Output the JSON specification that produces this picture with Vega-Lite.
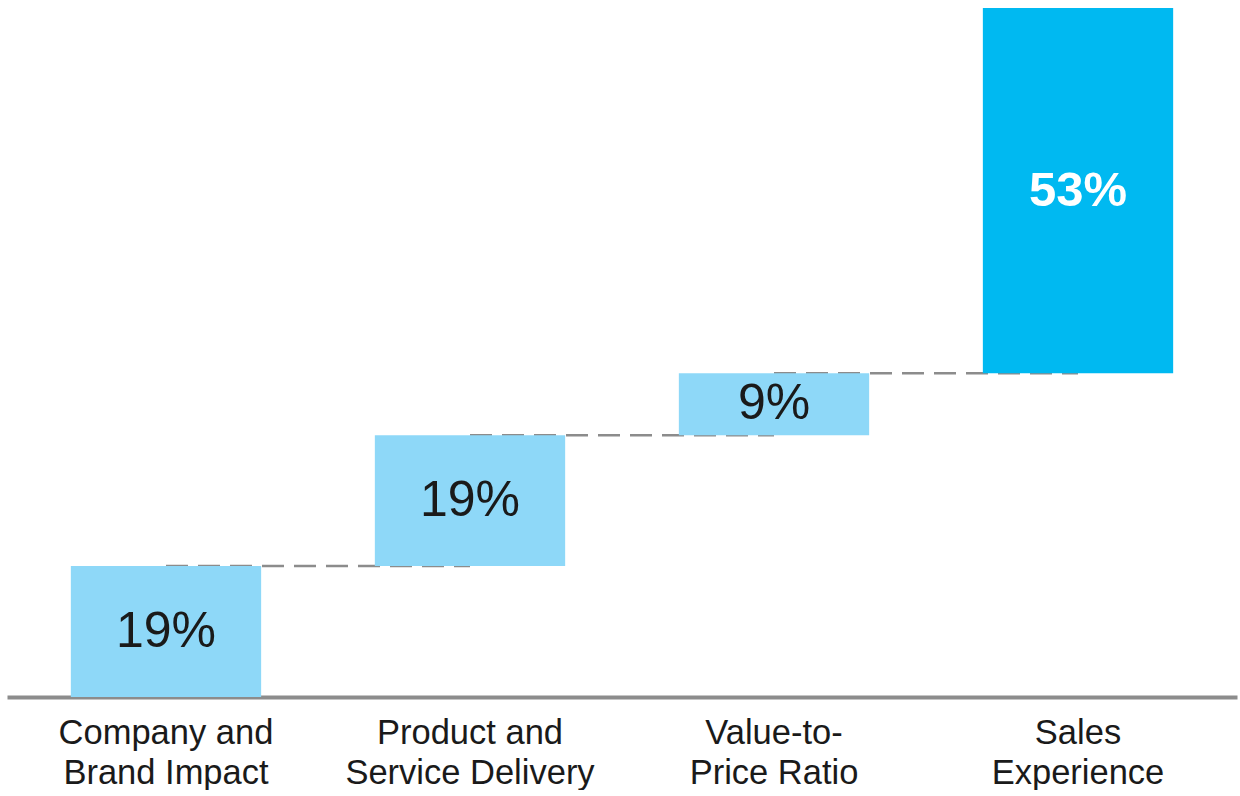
{
  "$schema": "https://vega.github.io/schema/vega-lite/v6.json",
  "width": 1230,
  "height": 689,
  "padding": {"left": 7, "top": 8, "right": 3, "bottom": 0},
  "background": "white",
  "config": {"view": {"stroke": null}, "font": "Liberation Sans"},
  "data": {
    "values": [
      {"cat": "Company and|Brand Impact", "start": 0, "end": 19, "label": "19%", "type": "part", "next": "Product and|Service Delivery"},
      {"cat": "Product and|Service Delivery", "start": 19, "end": 38, "label": "19%", "type": "part", "next": "Value-to-|Price Ratio"},
      {"cat": "Value-to-|Price Ratio", "start": 38, "end": 47, "label": "9%", "type": "part", "next": "Sales|Experience"},
      {"cat": "Sales|Experience", "start": 47, "end": 100, "label": "53%", "type": "main", "next": null}
    ]
  },
  "transform": [{"calculate": "(datum.start + datum.end) / 2", "as": "mid"}],
  "encoding": {
    "x": {
      "field": "cat",
      "type": "nominal",
      "sort": null,
      "scale": {"paddingInner": 0.374, "paddingOuter": 0.21},
      "axis": {
        "title": null,
        "labelAngle": 0,
        "labelExpr": "split(datum.value, '|')",
        "labelFontSize": 34.5,
        "labelLineHeight": 40,
        "labelLimit": 0,
        "labelColor": "#1a1a1a",
        "labelFont": "Liberation Sans",
        "labelPadding": 19,
        "ticks": false,
        "domainColor": "#8c8c8c",
        "domainWidth": 4
      }
    }
  },
  "layer": [
    {
      "transform": [{"filter": "datum.next != null"}],
      "mark": {"type": "rule", "color": "#8c8c8c", "strokeWidth": 2.5, "strokeDash": [22, 10]},
      "encoding": {
        "x2": {"field": "next"},
        "y": {"field": "end", "type": "quantitative", "scale": {"domain": [0, 100], "nice": false}, "axis": null}
      }
    },
    {
      "mark": {"type": "bar"},
      "encoding": {
        "y": {"field": "start", "type": "quantitative", "scale": {"domain": [0, 100], "nice": false}, "axis": null},
        "y2": {"field": "end"},
        "color": {"field": "type", "type": "nominal", "scale": {"domain": ["part", "main"], "range": ["#8ed8f8", "#00b9f1"]}, "legend": null}
      }
    },
    {
      "transform": [{"filter": "datum.type == 'part'"}],
      "mark": {"type": "text", "fontSize": 50, "color": "#1a1a1a", "font": "Liberation Sans", "baseline": "middle"},
      "encoding": {
        "y": {"field": "mid", "type": "quantitative", "scale": {"domain": [0, 100], "nice": false}, "axis": null},
        "text": {"field": "label"}
      }
    },
    {
      "transform": [{"filter": "datum.type == 'main'"}],
      "mark": {"type": "text", "fontSize": 49, "fontWeight": "bold", "color": "white", "font": "Liberation Sans", "baseline": "middle"},
      "encoding": {
        "y": {"field": "mid", "type": "quantitative", "scale": {"domain": [0, 100], "nice": false}, "axis": null},
        "text": {"field": "label"}
      }
    }
  ]
}
